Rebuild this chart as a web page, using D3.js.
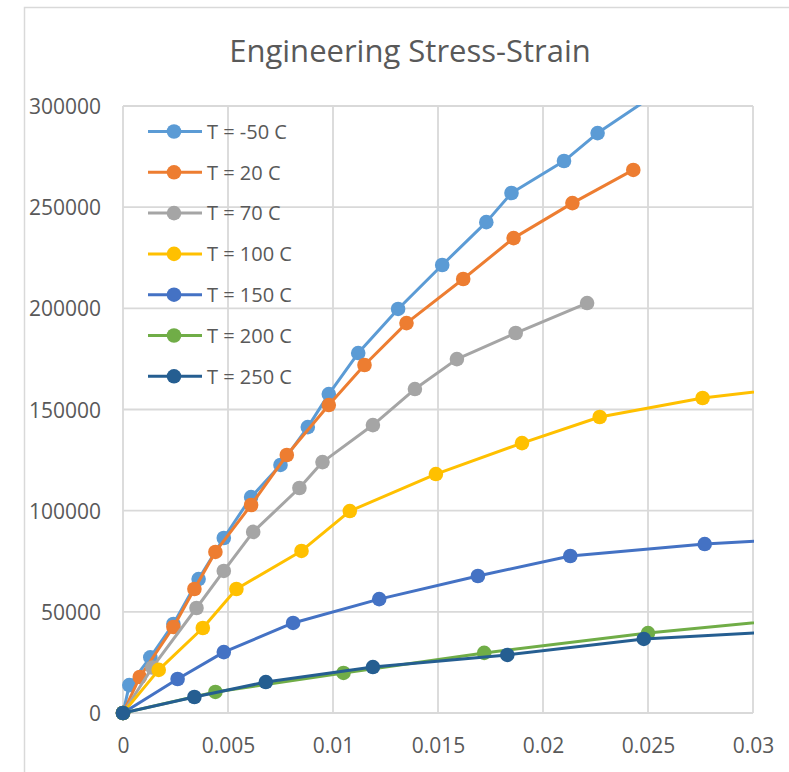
<!DOCTYPE html>
<html>
<head>
<meta charset="utf-8">
<script src="https://cdn.jsdelivr.net/npm/d3@7"></script>
<style>
  html, body { margin: 0; padding: 0; background: #ffffff; }
  svg { display: block; font-family: "Open Sans", "DejaVu Sans", sans-serif; }
</style>
</head>
<body>
<svg id="chart" width="789" height="772"></svg>
<script>
// ---------------- DATA ----------------
const chartTitle = "Engineering Stress-Strain";
const seriesNames = ["T = -50 C", "T = 20 C", "T = 70 C", "T = 100 C", "T = 150 C", "T = 200 C", "T = 250 C"];
const seriesColors = ["#5B9BD5", "#ED7D31", "#A5A5A5", "#FFC000", "#4472C4", "#70AD47", "#255E91"];

const strainM50 = [0, 0.0003, 0.0013, 0.0024, 0.0036, 0.0048, 0.0061, 0.0075, 0.0088, 0.0098, 0.0112, 0.0131, 0.0152, 0.0173, 0.0185, 0.0210, 0.0226, 0.0258];
const stressM50 = [0, 13800, 27500, 44000, 66200, 86500, 106700, 122600, 141300, 157600, 177900, 199700, 221400, 242600, 257000, 272800, 286600, 309000];

const strain20 = [0, 0.0008, 0.0024, 0.0034, 0.0044, 0.0061, 0.0078, 0.0098, 0.0115, 0.0135, 0.0162, 0.0186, 0.0214, 0.0243];
const stress20 = [0, 17800, 42500, 61300, 79600, 102800, 127500, 152200, 172000, 192700, 214500, 234700, 252000, 268400];

const strain70 = [0, 0.0014, 0.0035, 0.0048, 0.0062, 0.0084, 0.0095, 0.0119, 0.0139, 0.0159, 0.0187, 0.0221];
const stress70 = [0, 22500, 51900, 70200, 89500, 111200, 124000, 142300, 160100, 174900, 187800, 202600];

const strain100 = [0, 0.0017, 0.0038, 0.0054, 0.0085, 0.0108, 0.0149, 0.0190, 0.0227, 0.0276, 0.0325];
const stress100 = [0, 21300, 42000, 61300, 80100, 99800, 118100, 133400, 146300, 155700, 161600];

const strain150 = [0, 0.0026, 0.0048, 0.0081, 0.0122, 0.0169, 0.0213, 0.0277, 0.0325];
const stress150 = [0, 16800, 30100, 44500, 56300, 67700, 77600, 83500, 86300];

const strain200 = [0, 0.0044, 0.0105, 0.0172, 0.0250, 0.0325];
const stress200 = [0, 10400, 19800, 29700, 39500, 47000];

const strain250 = [0, 0.0034, 0.0068, 0.0119, 0.0183, 0.0248, 0.0325];
const stress250 = [0, 7900, 15300, 22700, 28700, 36600, 40900];

const xTickValues = [0, 0.005, 0.01, 0.015, 0.02, 0.025, 0.03];
const xTickLabels = ["0", "0.005", "0.01", "0.015", "0.02", "0.025", "0.03"];
const yTickValues = [0, 50000, 100000, 150000, 200000, 250000, 300000];
const yTickLabels = ["0", "50000", "100000", "150000", "200000", "250000", "300000"];

const strainSets = [strainM50, strain20, strain70, strain100, strain150, strain200, strain250];
const stressSets = [stressM50, stress20, stress70, stress100, stress150, stress200, stress250];

// ---------------- LAYOUT ----------------
const svg = d3.select("#chart");
const plot = { left: 123, top: 106, width: 630, height: 607 };
const textColor = "#595959";
const gridColor = "#d9d9d9";

const x = d3.scaleLinear().domain([0, 0.03]).range([plot.left, plot.left + plot.width]);
const y = d3.scaleLinear().domain([0, 300000]).range([plot.top + plot.height, plot.top]);

// outer chart border (extends past the window, as in the reference crop)
svg.append("rect")
  .attr("x", 24.5).attr("y", 7.5)
  .attr("width", 900).attr("height", 900)
  .attr("fill", "none").attr("stroke", gridColor).attr("stroke-width", 1.5);

// title
svg.append("text")
  .attr("x", 410).attr("y", 62)
  .attr("text-anchor", "middle")
  .attr("font-size", 31)
  .attr("fill", textColor)
  .text(chartTitle);

// gridlines
const grid = svg.append("g");
grid.selectAll("line.v").data(xTickValues).join("line")
  .attr("x1", d => x(d)).attr("x2", d => x(d))
  .attr("y1", plot.top).attr("y2", plot.top + plot.height)
  .attr("stroke", gridColor).attr("stroke-width", 1.8);
grid.selectAll("line.h").data(yTickValues).join("line")
  .attr("x1", plot.left).attr("x2", plot.left + plot.width)
  .attr("y1", d => y(d)).attr("y2", d => y(d))
  .attr("stroke", gridColor).attr("stroke-width", 1.8);

// axes (labels only, via d3 axis generators)
const xAxis = d3.axisBottom(x).tickValues(xTickValues)
  .tickFormat((d, i) => xTickLabels[i]).tickSize(0).tickPadding(0);
const gx = svg.append("g")
  .attr("transform", `translate(0,${plot.top + plot.height})`)
  .call(xAxis);
gx.select(".domain").remove();
gx.selectAll("text")
  .attr("y", 40).attr("dy", null)
  .attr("font-size", 21).attr("font-family", "Open Sans, sans-serif")
  .attr("fill", textColor);

const yAxis = d3.axisLeft(y).tickValues(yTickValues)
  .tickFormat((d, i) => yTickLabels[i]).tickSize(0).tickPadding(0);
const gy = svg.append("g")
  .attr("transform", `translate(${plot.left},0)`)
  .call(yAxis);
gy.select(".domain").remove();
gy.selectAll("text")
  .attr("x", -22).attr("dy", "0.36em")
  .attr("font-size", 21).attr("font-family", "Open Sans, sans-serif")
  .attr("fill", textColor);

// clip for lines
svg.append("clipPath").attr("id", "plotClip")
  .append("rect")
  .attr("x", plot.left).attr("y", plot.top - 1)
  .attr("width", plot.width + 1).attr("height", plot.height + 2);

const lineGen = d3.line().x(d => x(d[0])).y(d => y(d[1])).curve(d3.curveLinear);

const seriesG = svg.append("g");
seriesNames.forEach((name, i) => {
  const pts = strainSets[i].map((s, j) => [s, stressSets[i][j]]);
  const g = seriesG.append("g");
  g.append("path")
    .datum(pts)
    .attr("clip-path", "url(#plotClip)")
    .attr("fill", "none")
    .attr("stroke", seriesColors[i])
    .attr("stroke-width", 3)
    .attr("stroke-linejoin", "round")
    .attr("d", lineGen);
  g.selectAll("circle")
    .data(pts.filter(p => p[0] <= 0.03 && p[1] <= 300000))
    .join("circle")
    .attr("cx", d => x(d[0])).attr("cy", d => y(d[1]))
    .attr("r", 7.3)
    .attr("fill", seriesColors[i]);
});

// legend
const legend = svg.append("g");
seriesNames.forEach((name, i) => {
  const ly = 131.5 + i * 40.8;
  legend.append("line")
    .attr("x1", 148).attr("x2", 202).attr("y1", ly).attr("y2", ly)
    .attr("stroke", seriesColors[i]).attr("stroke-width", 3);
  legend.append("circle")
    .attr("cx", 174).attr("cy", ly).attr("r", 7.3)
    .attr("fill", seriesColors[i]);
  legend.append("text")
    .attr("x", 207).attr("y", ly).attr("dy", "0.36em")
    .attr("font-size", 20)
    .attr("fill", textColor)
    .text(name);
});
</script>
</body>
</html>
